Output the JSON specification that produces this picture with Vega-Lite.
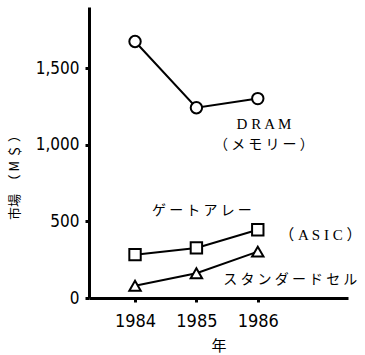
{
  "$schema": "https://vega.github.io/schema/vega-lite/v6.json",
  "autosize": "none",
  "padding": {"left": 89, "top": 7, "right": 17, "bottom": 57},
  "width": 259,
  "height": 291,
  "background": "white",
  "config": {"view": {"stroke": null}},
  "datasets": {
    "series": [
      {"series": "DRAM", "year": 1984, "value": 1675},
      {"series": "DRAM", "year": 1985, "value": 1242},
      {"series": "DRAM", "year": 1986, "value": 1302},
      {"series": "GateArray", "year": 1984, "value": 283},
      {"series": "GateArray", "year": 1985, "value": 327},
      {"series": "GateArray", "year": 1986, "value": 446},
      {"series": "StdCell", "year": 1984, "value": 80},
      {"series": "StdCell", "year": 1985, "value": 162},
      {"series": "StdCell", "year": 1986, "value": 303}
    ],
    "serifLabels": [
      {"label": "D  R  A  M", "year": 1986.1, "value": 1135},
      {"label": "（ A  S  I  C ）", "year": 1987.02, "value": 414}
    ],
    "cjkLabels": [
      {"label": "（ メ モ リ ー ）", "year": 1986.1, "value": 998},
      {"label": "ゲ ー ト ア レ ー", "year": 1985.09, "value": 566},
      {"label": "ス タ ン ダ ー ド セ ル", "year": 1986.53, "value": 120}
    ]
  },
  "layer": [
    {
      "data": {"name": "series"},
      "mark": {"type": "line", "color": "black", "strokeWidth": 2},
      "encoding": {
        "x": {
          "field": "year", "type": "quantitative",
          "scale": {"domain": [1983.25, 1987.47], "nice": false, "zero": false},
          "axis": {
            "values": [1984, 1985, 1986], "format": "d", "title": "年",
            "grid": false, "domainColor": "black", "domainWidth": 3,
            "tickColor": "black", "tickWidth": 3, "tickSize": 4,
            "labelPadding": 10, "labelFont": "Liberation Sans Narrow, DejaVu Sans Condensed", "labelFontSize": 18, "labelColor": "black",
            "titleFont": "Noto Sans CJK JP", "titleFontSize": 15, "titleFontWeight": "normal", "titleColor": "black", "titlePadding": 8
          }
        },
        "y": {
          "field": "value", "type": "quantitative",
          "scale": {"domain": [0, 1900], "nice": false},
          "axis": {
            "values": [0, 500, 1000, 1500], "format": ",d", "title": "市場　（ M ＄ ）",
            "grid": false, "domainColor": "black", "domainWidth": 3,
            "tickColor": "black", "tickWidth": 3, "tickSize": 4,
            "labelPadding": 6, "labelFont": "Liberation Sans Narrow, DejaVu Sans Condensed", "labelFontSize": 17, "labelColor": "black",
            "titleFont": "Noto Sans CJK JP", "titleFontSize": 13, "titleFontWeight": "normal", "titleColor": "black", "titlePadding": 14,
            "titleY": 167
          }
        },
        "detail": {"field": "series"}
      }
    },
    {
      "data": {"name": "series"},
      "mark": {"type": "point", "filled": true, "fill": "white", "stroke": "black", "strokeWidth": 2, "size": 130, "opacity": 1},
      "encoding": {
        "x": {"field": "year", "type": "quantitative"},
        "y": {"field": "value", "type": "quantitative"},
        "shape": {
          "field": "series", "type": "nominal",
          "scale": {"domain": ["DRAM", "GateArray", "StdCell"], "range": ["circle", "square", "triangle-up"]},
          "legend": null
        }
      }
    },
    {
      "data": {"name": "serifLabels"},
      "mark": {"type": "text", "color": "black", "align": "center", "baseline": "middle", "font": "Liberation Serif, Noto Sans CJK JP", "fontSize": 15},
      "encoding": {
        "x": {"field": "year", "type": "quantitative"},
        "y": {"field": "value", "type": "quantitative"},
        "text": {"field": "label"}
      }
    },
    {
      "data": {"name": "cjkLabels"},
      "mark": {"type": "text", "color": "black", "align": "center", "baseline": "middle", "font": "Noto Sans CJK JP", "fontSize": 14},
      "encoding": {
        "x": {"field": "year", "type": "quantitative"},
        "y": {"field": "value", "type": "quantitative"},
        "text": {"field": "label"}
      }
    }
  ]
}
